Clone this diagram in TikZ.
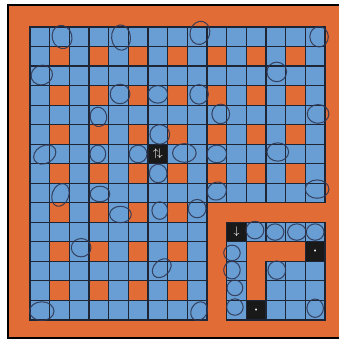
\documentclass[tikz,border=0pt]{standalone}
\usepackage{amsmath,amssymb}
\usepackage{tikz}
\usepackage{xcolor}
\definecolor{boardorange}{RGB}{226,108,54}
\definecolor{boardblue}{RGB}{104,158,211}
\definecolor{gridline}{RGB}{30,38,54}
\definecolor{graphite}{RGB}{48,56,86}

\tikzset{
  cell/.style={draw=gridline, line width=0.85pt},
  blackcell/.style={draw=gridline, line width=0.85pt, fill=black!90, text=white,
    minimum width=0.5cm, minimum height=0.4965cm, inner sep=0pt},
  penmark/.style={draw=graphite, line width=0.75pt, opacity=0.9},
}

\begin{document}
\begin{tikzpicture}[x=0.5cm, y=0.4965cm]
  \useasboundingbox (-1.525,1.383) rectangle (15.71,-16.13);
  \clip (-1.525,1.383) rectangle (15.71,-16.13);
  % Frame
  \fill[white] (-1.525,1.383) rectangle (15.71,-16.13);
  \draw[black, line width=1.2pt, fill=boardorange] (-1.118,1.126) rectangle (16.6,-15.92);
  % Main board
  \foreach \r in {0,...,14}{
    \foreach \c in {0,...,14}{
      \pgfmathtruncatemacro\corner{and(\r>8,\c>8)}
      \pgfmathtruncatemacro\odd{and(isodd(\r),isodd(\c))}
      \ifnum\corner=0
        \ifnum\odd=1 \def\tint{boardorange}\else\def\tint{boardblue}\fi
        \draw[cell, fill=\tint] (\c,-\r) rectangle ++(1,-1);
      \fi
    }
  }
  % Corner track
  \foreach \c/\r in {11/10,12/10,13/10,14/10,10/11,10/12,10/13,10/14,
                     12/12,13/12,14/12,12/13,13/13,14/13,12/14,13/14,14/14}
    \draw[cell, fill=boardblue] (\c,-\r) rectangle ++(1,-1);
  % Black cells
  \node[blackcell] (swap) at (6.5,-6.5) {\footnotesize$\uparrow\!\downarrow$};
  \node[blackcell] (entry) at (10.5,-10.5) {\footnotesize$\downarrow$};
  \node[blackcell] (stopA) at (14.5,-11.5) {\tiny\textbullet};
  \node[blackcell] (stopB) at (11.5,-14.5) {\tiny\textbullet};
  % Pencil marks
  \foreach \x/\y/\a/\b/\t in {1.63/-0.51/0.5/0.6/15, 4.63/-0.54/0.48/0.65/5,
      0.6/-2.46/0.55/0.5/20, 4.58/-3.43/0.5/0.5/0, 3.48/-4.6/0.42/0.5/10,
      8.64/-0.3/0.5/0.6/-15, 6.5/-3.45/0.5/0.45/0, 8.6/-3.45/0.47/0.5/0,
      9.7/-4.45/0.45/0.5/0, 14.7/-0.5/0.47/0.52/0, 12.55/-2.3/0.5/0.5/0,
      14.65/-4.45/0.55/0.48/0, 0.75/-6.53/0.6/0.45/30, 3.45/-6.5/0.4/0.45/0,
      1.55/-8.6/0.42/0.6/-20, 3.56/-8.55/0.5/0.4/0, 4.6/-9.6/0.55/0.42/0,
      6.6/-5.5/0.5/0.5/0, 5.5/-6.5/0.45/0.45/0, 7.85/-6.45/0.6/0.48/0,
      6.52/-7.5/0.45/0.47/0, 9.5/-6.5/0.5/0.45/0, 9.5/-8.4/0.5/0.45/30,
      6.6/-9.4/0.4/0.45/0, 8.5/-9.3/0.45/0.47/0, 12.6/-6.4/0.55/0.47/0,
      14.6/-8.3/0.6/0.47/0, 2.6/-11.3/0.5/0.47/0, 0.6/-14.55/0.62/0.48/0,
      6.7/-12.35/0.55/0.4/45, 8.6/-14.55/0.4/0.5/-30,
      11.44/-10.4/0.45/0.45/0, 12.46/-10.5/0.45/0.42/0, 13.57/-10.5/0.47/0.42/0,
      14.5/-10.5/0.45/0.42/0, 10.27/-11.57/0.42/0.4/0, 10.27/-12.45/0.42/0.45/0,
      10.42/-13.36/0.4/0.4/0, 10.42/-14.34/0.42/0.42/0, 12.55/-12.45/0.45/0.47/0,
      14.5/-14.4/0.42/0.47/0}
    \draw[penmark] (\x,\y) circle [x radius=\a, y radius=\b, rotate=\t];
\end{tikzpicture}
\end{document}
